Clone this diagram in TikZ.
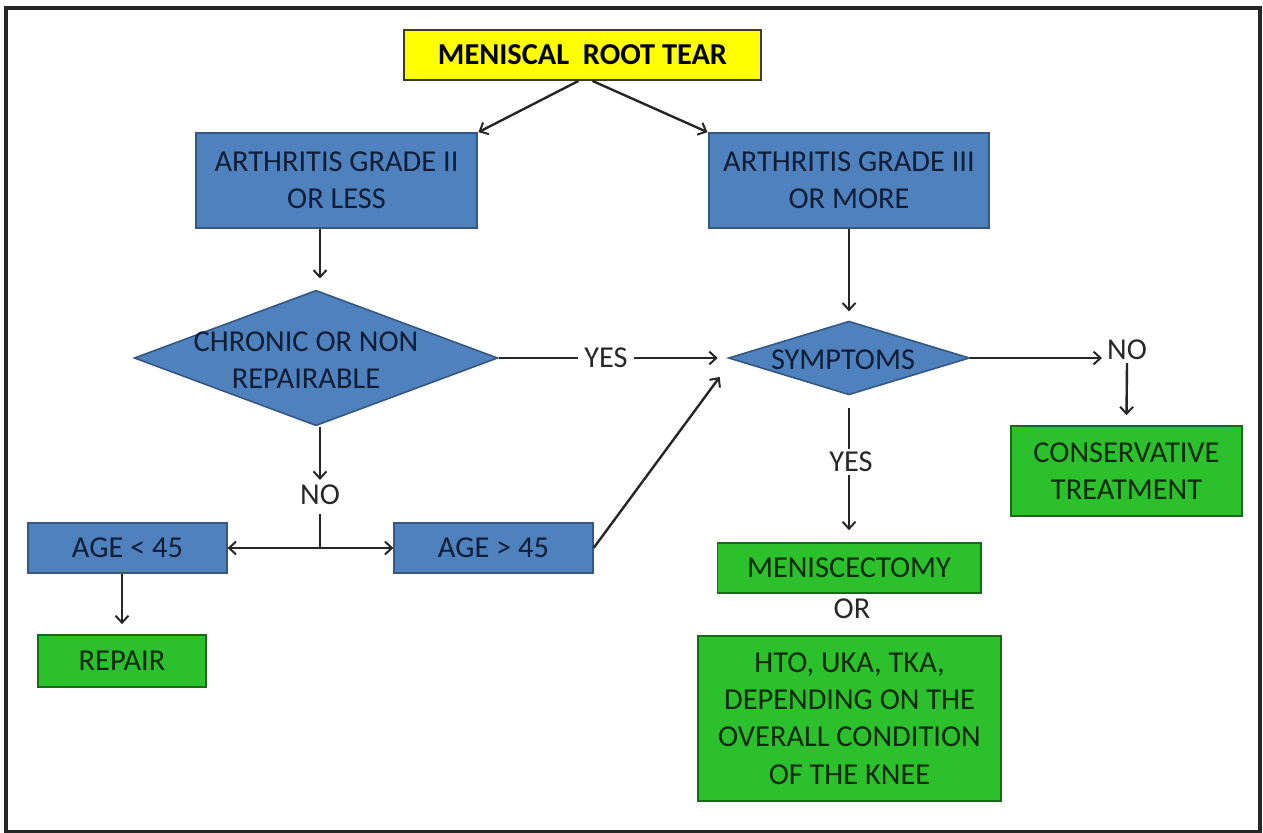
\documentclass[tikz,border=0pt]{standalone}
\usepackage{fontspec}
\setmainfont{Carlito}
\usetikzlibrary{shapes.geometric,arrows.meta}
\definecolor{bfill}{RGB}{79,129,189}
\definecolor{bdraw}{RGB}{52,88,132}
\definecolor{btext}{RGB}{14,30,56}
\definecolor{gfill}{RGB}{44,192,44}
\definecolor{gdraw}{RGB}{24,105,24}
\definecolor{gtext}{RGB}{10,42,10}
\definecolor{yfill}{RGB}{255,255,0}
\definecolor{ydraw}{RGB}{60,60,40}
\definecolor{lcol}{RGB}{38,38,38}
\definecolor{ltext}{RGB}{40,40,40}
\tikzset{
  txt/.style={font=\fontsize{30.5}{37.5}\selectfont, align=center},
  bluebox/.style={txt, rectangle, fill=bfill, draw=bdraw, line width=2pt, text=btext, inner sep=0pt},
  greenbox/.style={txt, rectangle, fill=gfill, draw=gdraw, line width=2pt, text=gtext, inner sep=0pt},
  rootbox/.style={rectangle, fill=yfill, draw=ydraw, line width=2pt, inner sep=0pt, font=\fontsize{30.5}{36}\selectfont\bfseries},
  decide/.style={diamond, fill=bfill, draw=bdraw, line width=1.6pt, inner sep=0pt, aspect=2.7},
  lab/.style={txt, text=ltext, inner sep=3pt},
  conn/.style={draw=lcol, line width=2.4pt},
  arr/.style={conn, -{Straight Barb[length=7pt,width=13pt,line width=2pt]}},
}
\begin{document}
\begin{tikzpicture}[x=1bp,y=-1bp]
\useasboundingbox (0,0) rectangle (1263,833);
\draw[lcol, line width=3.5pt] (6,8) rectangle (1260,832);

\node[rootbox, minimum width=359, minimum height=50] (root) at (582.5,55) {MENISCAL\ \ ROOT TEAR};
\node[bluebox, minimum width=283, minimum height=95] (arth2) at (336.5,180.5) {ARTHRITIS GRADE II\\OR LESS};
\node[bluebox, minimum width=282, minimum height=95] (arth3) at (849,180.5) {ARTHRITIS GRADE III\\OR MORE};

\node[decide, minimum width=365, minimum height=136,
      label={[txt, text=btext, xshift=-10pt, yshift=-2pt]center:{CHRONIC OR NON\\REPAIRABLE}}] (chron) at (316,358) {};
\node[decide, minimum width=242, minimum height=74,
      label={[txt, text=btext, xshift=-6pt, yshift=-2pt]center:{SYMPTOMS}}] (symp) at (849,358) {};

\node[bluebox, minimum width=199, minimum height=51] (age1) at (127.5,548) {AGE < 45};
\node[bluebox, minimum width=199, minimum height=51] (age2) at (493.5,548) {AGE > 45};
\node[greenbox, minimum width=168, minimum height=52] (repair) at (122,661) {REPAIR};
\node[greenbox, minimum width=264, minimum height=50] (mecto) at (849,568) {MENISCECTOMY};
\node[greenbox, minimum width=305, minimum height=165] (hto) at (849.5,718.5) {HTO, UKA, TKA,\\DEPENDING ON THE\\OVERALL CONDITION\\OF THE KNEE};
\node[greenbox, minimum width=231, minimum height=90] (cons) at (1126.5,471) {CONSERVATIVE\\TREATMENT};

\node[lab] (orL) at (852,609) {OR};
\node[lab] (noL) at (320,495) {NO};
\node[lab] (noR) at (1127,350) {NO};
\node[lab] (yesB) at (851,462) {YES};
\coordinate (junc) at (320,548);

% connectors
\draw[arr] ([xshift=-4pt]root.south) -- (arth2.north east);
\draw[arr] ([xshift=10pt]root.south) -- (arth3.north west);
\draw[arr] (arth2.south -| noL.north) -- ([yshift=11pt]chron.north -| noL.north);
\draw[arr] (arth3.south) -- ([yshift=9pt]symp.north);
\draw[arr] (chron.east) -- node[lab, fill=white, inner xsep=6pt, pos=0.49]{YES} ([xshift=-10pt]symp.west);
\draw[arr] (chron.south -| noL.north) -- ([yshift=2pt]noL.north);
\draw[conn] ([yshift=-6pt]noL.south) -- (junc);
\draw[arr] (junc) -- (age1.east);
\draw[arr] (junc) -- (age2.west);
\draw[arr] (age2.east) -- ([xshift=-8pt,yshift=-19pt]symp.west);
\draw[arr] (age1.south -| repair.north) -- ([yshift=10pt]repair.north);
\draw[arr] (symp.east) -- ([xshift=-2pt]symp.east -| noR.west);
\draw[arr] (noR.south) -- ([yshift=10pt]cons.north);
\draw[conn] ([yshift=-12pt]symp.south) -- (symp.south |- yesB.north);
\draw[arr] (symp.south |- yesB.south) -- ([yshift=12pt]mecto.north);
\end{tikzpicture}
\end{document}
